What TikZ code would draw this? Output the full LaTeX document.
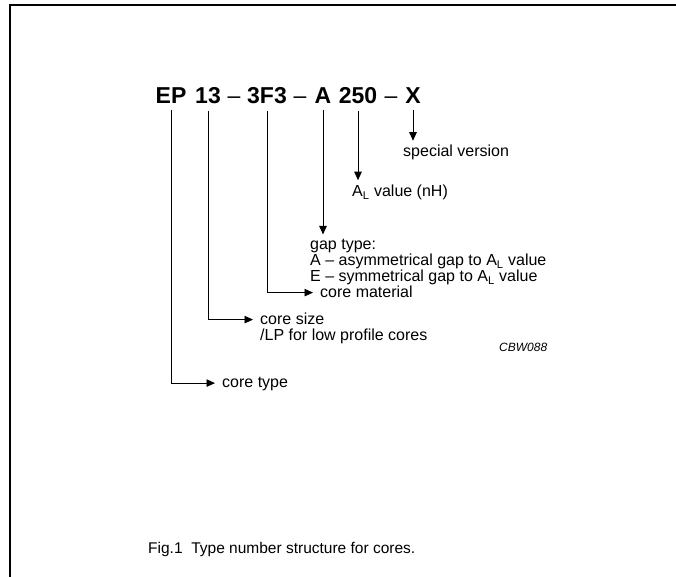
\documentclass[tikz,border=0pt]{standalone}
\usepackage{fontspec}
\setmainfont{Liberation Sans}
\usetikzlibrary{arrows.meta}

\begin{document}
\begin{tikzpicture}[x=1pt, y=-1pt,
    part/.style={font=\fontsize{23}{27}\selectfont\bfseries, inner xsep=0pt, inner ysep=7pt, anchor=base},
    minus/.style={part, font=\fontsize{23}{27}\selectfont},
    lbl/.style={font=\fontsize{16}{16}\selectfont, inner xsep=7pt, inner ysep=4.5pt, anchor=base west, align=left},
    lead/.style={line width=0.9pt, -{Triangle[length=8.5pt, width=7.5pt]}}]
    \useasboundingbox (0,0) rectangle (676,577);

    % Frame
    \draw[line width=2pt] (9.7,577) -- (9.7,4.8) -- (676,4.8);

    % Type number
    \node[part] (ep) at (171,103.3) {EP};
    \node[part] (size) at (208,103.3) {13};
    \node[minus] (m1) at (234,103.3) {--};
    \node[part] (mat) at (267,103.3) {3F3};
    \node[minus] (m2) at (300,103.3) {--};
    \node[part] (gap) at (323,103.3) {A};
    \node[part] (al) at (358,103.3) {250};
    \node[minus] (m3) at (391,103.3) {--};
    \node[part] (ver) at (413,103.3) {X};

    % Labels (multi-line nodes sit on their last line)
    \node[lbl] (special) at (396,157) {special version};
    \node[lbl] (alval) at (345,196.5) {A\textsubscript{L} value (nH)};
    \node[lbl] (gaptype) at (303,281.5) {gap type:\\A -- asymmetrical gap to A\textsubscript{L} value\\E -- symmetrical gap to A\textsubscript{L} value};
    \node[lbl] (coremat) at (313,297) {core material};
    \node[lbl] (coresize) at (253,340) {core size\\/LP for low profile cores};
    \node[lbl] (coretype) at (215,387.5) {core type};

    % Leaders
    \draw[lead] (ver.south) -- (ver.south |- special.north);
    \draw[lead] (al.south) -- (al.south |- alval.north);
    \draw[lead] (gap.south) -- (gap.south |- gaptype.north);
    \draw[lead] (mat.south) |- ([yshift=4.4pt]coremat.base west);
    \draw[lead] (size.south) |- ([yshift=20.4pt]coresize.base west);
    \draw[lead] (ep.south) |- ([yshift=4.4pt]coretype.base west);

    % Drawing code and caption
    \node[font=\fontsize{12}{14}\selectfont\itshape, anchor=base west, inner sep=0pt] (code) at (499,351) {CBW088};
    \node[font=\fontsize{15.5}{18}\selectfont, anchor=base west, inner sep=0pt] (caption) at (148,553) {Fig.1~~Type number structure for cores.};
\end{tikzpicture}
\end{document}
